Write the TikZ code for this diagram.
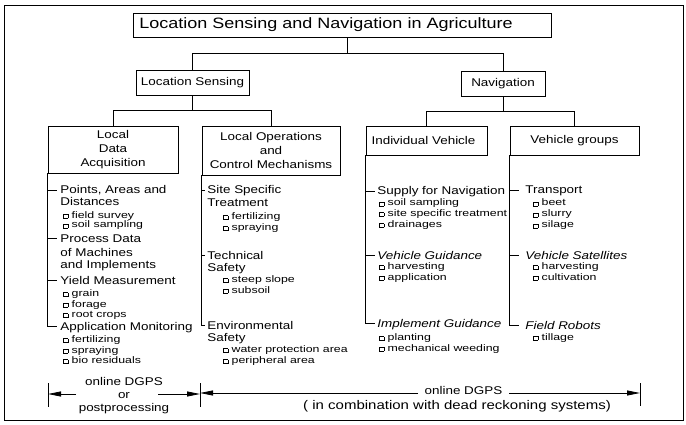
\documentclass[tikz,border=0pt]{standalone}
\usepackage{fontspec}
\setmainfont{Liberation Sans}[FakeStretch=1.2]
\newfontfamily\subf{Liberation Sans}[FakeStretch=1.3]
\usetikzlibrary{arrows.meta}
\newcommand\bx{{\setlength\fboxsep{0pt}\setlength\fboxrule{0.6pt}\raisebox{0.3pt}{\fbox{\rule{0pt}{3.4pt}\rule{3.6pt}{0pt}}}}\hspace{3.5pt}}
\newcommand\msz{\fontsize{11.2}{13}\selectfont}
\newcommand\ssz{\subf\fontsize{9.5}{10}\selectfont}
\begin{document}
\begin{tikzpicture}[x=1pt,y=-1pt, line width=0.8pt,
 box/.style={draw, inner sep=0pt, align=center, font=\fontsize{11.2}{14.2}\selectfont},
 it/.style={anchor=west, inner sep=0pt, text height=8pt, text depth=0pt, font=\msz},
 iti/.style={anchor=west, inner sep=0pt, text height=8pt, text depth=0pt, font=\msz\itshape},
 sb/.style={anchor=west, inner sep=0pt, text height=5pt, text depth=0pt, font=\ssz},
 bt/.style={inner sep=0pt, text height=8pt, text depth=0pt, font=\msz},
 arr/.style={-{Triangle[length=13pt,width=5pt]}}]
\useasboundingbox (0,0) rectangle (686,425);
\draw (4,5) rectangle (683,420);

% boxes
\node[box, minimum width=418pt, minimum height=24pt, font=\fontsize{15}{18}\selectfont] (title) at (342,25) {Location Sensing and Navigation in Agriculture\hspace*{32pt}};
\node[box, minimum width=113pt, minimum height=25pt] (ls) at (192.5,82.5) {Location Sensing};
\node[box, minimum width=84pt, minimum height=25pt] (nav) at (503,83.5) {Navigation};
\node[box, minimum width=130pt, minimum height=47pt] (b1) at (113,149.5) {Local\\Data\\Acquisition};
\node[box, minimum width=138pt, minimum height=49pt] (b2) at (271,150.5) {Local Operations\\and\\Control Mechanisms};
\node[box, minimum width=121pt, minimum height=29pt] (b3) at (426.5,140.5) {Individual Vehicle\hspace*{6pt}};
\node[box, minimum width=129pt, minimum height=29pt] (b4) at (574.5,140.5) {Vehicle groups};

% tree connectors
\coordinate (jt) at (0,53);
\coordinate (jl) at (0,110);
\coordinate (jn) at (0,111);
\draw ([xshift=5pt]title.south) -- ([xshift=5pt]title.south |- jt);
\draw (ls.north) |- (nav.north |- jt) -- (nav.north);
\draw (ls.south) -- (ls.south |- jl);
\draw (b1.north) |- (b2.north |- jl) -- (b2.north);
\draw (nav.south) -- (nav.south |- jn);
\draw (b3.north) |- (b4.north |- jn) -- (b4.north);

% column 1
\node[it] (pa) at (60,190) {Points, Areas and};
\node[it] (pa2) at (60,202) {Distances};
\node[sb] (s1a) at (63,216) {\bx field survey};
\node[sb] (s1b) at (63,225.5) {\bx soil sampling};
\node[it] (pd) at (60,238) {Process Data};
\node[it] (pd2) at (60,252) {of Machines};
\node[it] (pd3) at (60,265) {and Implements};
\node[it] (ym) at (60,280) {Yield Measurement};
\node[sb] (s1c) at (63,294) {\bx grain};
\node[sb] (s1d) at (63,304.5) {\bx forage};
\node[sb] (s1e) at (63,315) {\bx root crops};
\node[it] (am) at (60,326) {Application Monitoring};
\node[sb] (s1f) at (63,340) {\bx fertilizing};
\node[sb] (s1g) at (63,350.5) {\bx spraying};
\node[sb] (s1h) at (63,361) {\bx bio residuals};
\draw (b1.south west) |- ([xshift=-3pt]am.west);
\draw (pa.west -| b1.west) -- ([xshift=-3pt]pa.west);
\draw (pd.west -| b1.west) -- ([xshift=-3pt]pd.west);
\draw (ym.west -| b1.west) -- ([xshift=-3pt]ym.west);

% column 2
\node[it] (ss) at (207,190) {Site Specific};
\node[it] (ss2) at (207,203) {Treatment};
\node[sb] (s2a) at (223,217) {\bx fertilizing};
\node[sb] (s2b) at (223,228) {\bx spraying};
\node[it] (te) at (207,255) {Technical};
\node[it] (te2) at (207,267) {Safety};
\node[sb] (s2c) at (223,280) {\bx steep slope};
\node[sb] (s2d) at (223,290.5) {\bx subsoil};
\node[it] (en) at (207,325) {Environmental};
\node[it] (en2) at (207,337) {Safety};
\node[sb] (s2e) at (223,350) {\bx water protection area};
\node[sb] (s2f) at (223,361) {\bx peripheral area};
\draw (b2.south west) |- ([xshift=-2pt]en.west);
\draw (ss.west -| b2.west) -- ([xshift=-2pt]ss.west);
\draw (te.west -| b2.west) -- ([xshift=-2pt]te.west);

% column 3
\node[it] (sn) at (377,191) {Supply for Navigation};
\node[sb] (s3a) at (379,203.5) {\bx soil sampling};
\node[sb] (s3b) at (379,214) {\bx site specific treatment};
\node[sb] (s3c) at (379,225) {\bx drainages};
\node[iti] (vg) at (377,255) {Vehicle Guidance};
\node[sb] (s3d) at (379,267) {\bx harvesting};
\node[sb] (s3e) at (379,277.5) {\bx application};
\node[iti] (ig) at (377,323) {Implement Guidance};
\node[sb] (s3f) at (379,338) {\bx planting};
\node[sb] (s3g) at (379,348.5) {\bx mechanical weeding};
\draw (b3.south west) |- ([xshift=-2pt]ig.west);
\draw (sn.west -| b3.west) -- ([xshift=-2pt]sn.west);
\draw (vg.west -| b3.west) -- ([xshift=-2pt]vg.west);

% column 4
\node[it] (tr) at (525,190) {Transport};
\node[sb] (s4a) at (533,203.5) {\bx beet};
\node[sb] (s4b) at (533,214.5) {\bx slurry};
\node[sb] (s4c) at (533,225.5) {\bx silage};
\node[iti] (vs) at (525,255) {Vehicle Satellites};
\node[sb] (s4d) at (533,267) {\bx harvesting};
\node[sb] (s4e) at (533,277.5) {\bx cultivation};
\node[iti] (fr) at (525,325) {Field Robots};
\node[sb] (s4f) at (533,337.5) {\bx tillage};
\draw (b4.south west) |- ([xshift=-6pt]fr.west);
\draw (tr.west -| b4.west) -- ([xshift=-6pt]tr.west);
\draw (vs.west -| b4.west) -- ([xshift=-6pt]vs.west);

% bottom
\node[bt] (od1) at (124,381) {online DGPS};
\node[bt] (or1) at (124,394) {or};
\node[bt] (pp) at (124,407) {postprocessing};
\node[bt] (od2) at (463.5,390) {online DGPS};
\node[bt, font=\fontsize{12.5}{14}\selectfont] (cb) at (457,405) {( in combination with dead reckoning systems)};
\coordinate (bar1t) at (48,383); \coordinate (bar1b) at (48,407);
\coordinate (bar2t) at (200,383); \coordinate (bar2b) at (200,407);
\coordinate (bar3t) at (640,383); \coordinate (bar3b) at (640,406);
\draw (bar1t) -- (bar1b);
\draw (bar2t) -- (bar2b);
\draw (bar3t) -- (bar3b);
\coordinate (a1) at (76,394);
\coordinate (a2) at (158,394);
\coordinate (r1) at (418,393);
\coordinate (r2) at (509,393);
\draw[arr] (a1) -- (bar1t |- a1);
\draw[arr] (a2) -- (bar2t |- a2);
\draw[arr] (r1) -- (bar2t |- r1);
\draw[arr] (r2) -- (bar3t |- r2);
\end{tikzpicture}
\end{document}
